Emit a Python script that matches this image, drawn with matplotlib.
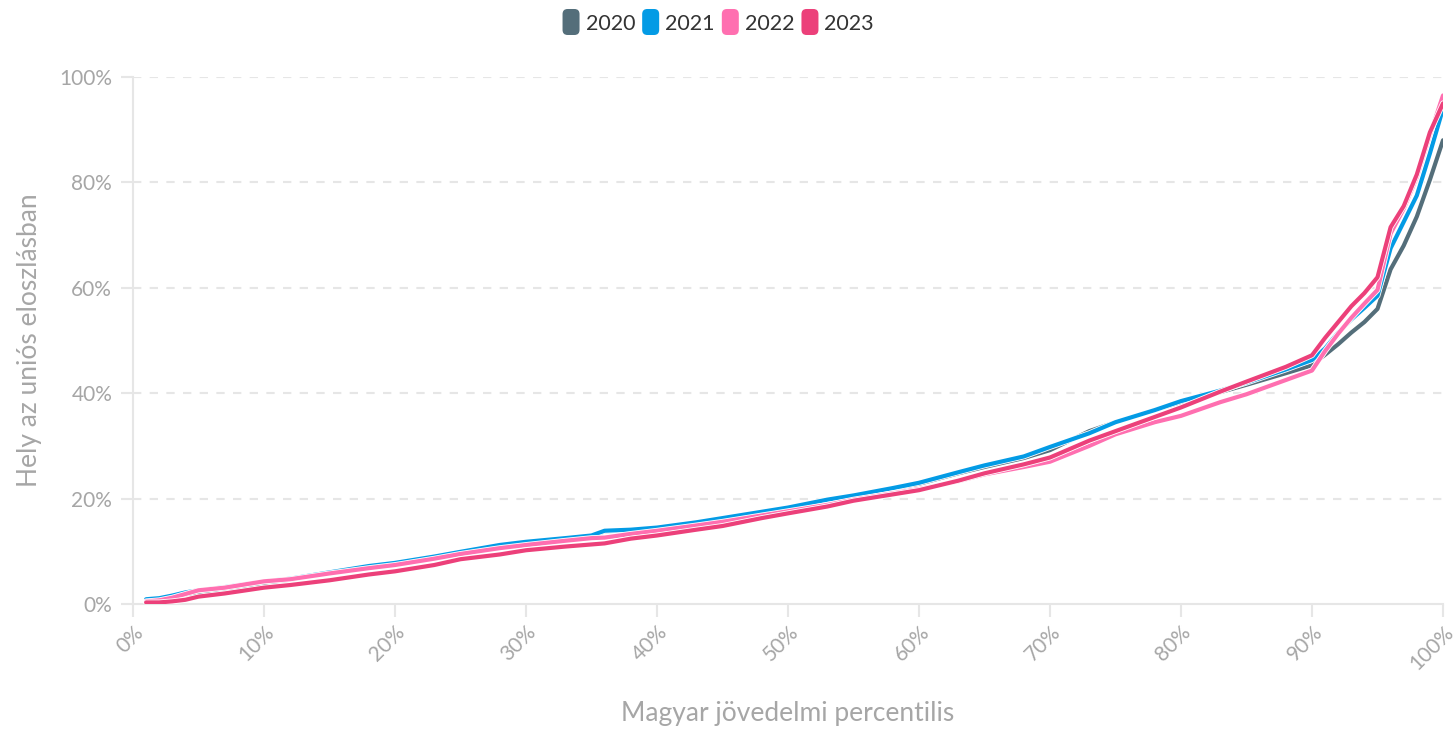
import matplotlib
matplotlib.use("Agg")
import matplotlib.pyplot as plt
from matplotlib.patches import FancyBboxPatch
from matplotlib.legend_handler import HandlerPatch
import matplotlib.patheffects as pe

percentiles = [1, 2, 3, 4, 5, 7, 10, 12, 15, 18, 20, 23, 25, 28, 30, 33, 35, 36, 38, 40,
               43, 45, 48, 50, 53, 55, 58, 60, 63, 65, 68, 70, 73, 75, 78, 80, 83, 85, 88, 90,
               91, 92, 93, 94, 95, 96, 97, 98, 99, 100]

y2020 = [0.8, 0.9, 1.3, 1.8, 2.2, 2.9, 4.0, 4.6, 6.0, 7.2, 7.7, 8.9, 9.8, 11.0, 11.7, 12.4, 12.8, 13.8, 14.0, 14.4,
         15.4, 16.2, 17.3, 18.1, 19.6, 20.4, 21.8, 22.8, 24.8, 26.0, 27.7, 29.2, 32.8, 34.5, 36.8, 38.3, 40.2, 41.6, 43.8, 45.3,
         47.3, 49.3, 51.5, 53.5, 56.0, 63.5, 68.0, 73.5, 80.5, 88.0]
y2021 = [0.9, 1.1, 1.6, 2.2, 2.6, 3.2, 4.3, 4.8, 6.0, 7.2, 7.8, 9.0, 9.9, 11.2, 11.8, 12.5, 13.0, 13.9, 14.1, 14.5,
         15.5, 16.3, 17.5, 18.3, 19.8, 20.6, 22.0, 23.0, 25.0, 26.3, 28.0, 29.8, 32.4, 34.5, 36.8, 38.5, 40.5, 42.0, 44.5, 46.3,
         48.5, 51.5, 54.0, 56.2, 58.5, 67.5, 72.5, 77.5, 85.5, 94.0]
y2022 = [0.5, 0.7, 1.2, 1.9, 2.6, 3.1, 4.3, 4.7, 5.8, 6.8, 7.4, 8.6, 9.5, 10.6, 11.2, 12.0, 12.5, 12.6, 13.3, 13.9,
         14.9, 15.6, 16.8, 17.6, 18.8, 19.8, 21.0, 21.8, 23.3, 24.6, 26.0, 27.0, 30.0, 32.2, 34.5, 35.7, 38.3, 39.8, 42.5, 44.3,
         48.0, 51.3, 54.3, 57.0, 59.6, 70.3, 75.0, 81.0, 89.0, 96.5]
y2023 = [0.3, 0.3, 0.5, 0.8, 1.4, 2.0, 3.1, 3.6, 4.5, 5.6, 6.2, 7.4, 8.5, 9.4, 10.2, 10.9, 11.3, 11.5, 12.4, 13.0,
         14.1, 14.8, 16.3, 17.2, 18.5, 19.6, 20.8, 21.6, 23.4, 24.8, 26.5, 27.8, 31.0, 32.8, 35.5, 37.3, 40.3, 42.2, 45.0, 47.2,
         50.5, 53.5, 56.5, 59.0, 62.0, 71.5, 75.5, 81.5, 89.5, 95.0]

series_names = ["2020", "2021", "2022", "2023"]
series_values = [y2020, y2021, y2022, y2023]
colors = ["#546e7a", "#039be5", "#ff6fb0", "#ec407a"]

x_ticks = [0, 10, 20, 30, 40, 50, 60, 70, 80, 90, 100]
y_ticks = [0, 20, 40, 60, 80, 100]

plt.rcParams['font.family'] = ['Lato', 'DejaVu Sans']

fig = plt.figure(figsize=(14.55, 7.31), dpi=100)
ax = fig.add_axes([133/1455, 1-604/731, (1443-133)/1455, (604-77)/731])

lines = []
for name, vals, c in zip(series_names, series_values, colors):
    ln, = ax.plot(percentiles, vals, color=c, lw=3.0, solid_joinstyle='round',
                  solid_capstyle='round', label=name, zorder=3,
                  path_effects=[pe.Stroke(linewidth=4.2, foreground='white'), pe.Normal()])
    lines.append(ln)

ax.set_xlim(0, 100)
ax.set_ylim(0, 100)
ax.set_xticks(x_ticks)
ax.set_xticklabels([f"{v}%" for v in x_ticks], rotation=45, ha='right',
                   rotation_mode='anchor')
ax.set_yticks(y_ticks)
ax.set_yticklabels([f"{v}%" for v in y_ticks])

grid_c = "#e6e6e6"
for v in y_ticks[1:]:
    ax.axhline(v, color=grid_c, lw=1.5, ls=(0, (4, 4)), zorder=1)

for s in ['top', 'right']:
    ax.spines[s].set_visible(False)
for s in ['left', 'bottom']:
    ax.spines[s].set_color(grid_c)
    ax.spines[s].set_linewidth(1.5)

ax.tick_params(axis='both', colors=grid_c, length=9, width=1.5,
               labelcolor="#a6a6a6", labelsize=15)
ax.tick_params(axis='x', pad=4)
ax.tick_params(axis='y', pad=6)

ax.set_xlabel("Magyar jövedelmi percentilis", fontsize=19, color="#a6a6a6", labelpad=20)
ax.set_ylabel("Hely az uniós eloszlásban", fontsize=19, color="#a6a6a6", labelpad=12)


class RoundBoxHandler(HandlerPatch):
    def create_artists(self, legend, orig_handle, xdescent, ydescent, width, height, fontsize, trans):
        w = 17 * 0.72
        h = 26 * 0.72
        x0 = -xdescent + (width - w) / 2
        y0 = -ydescent + (height - h) / 2
        p = FancyBboxPatch((x0, y0), w, h, boxstyle=f"round,pad=0,rounding_size={w*0.3}",
                           facecolor=orig_handle.get_color(), edgecolor='none',
                           transform=trans)
        return [p]


leg = fig.legend(handles=lines, labels=series_names, loc='upper center',
                 bbox_to_anchor=(718/1455, 1.008), ncol=4, frameon=False,
                 fontsize=15.5, handlelength=0.85, handletextpad=0.25, columnspacing=0.3,
                 handler_map={l: RoundBoxHandler() for l in lines})
for t in leg.get_texts():
    t.set_color("#333333")

fig.savefig("out.png", dpi=100)
